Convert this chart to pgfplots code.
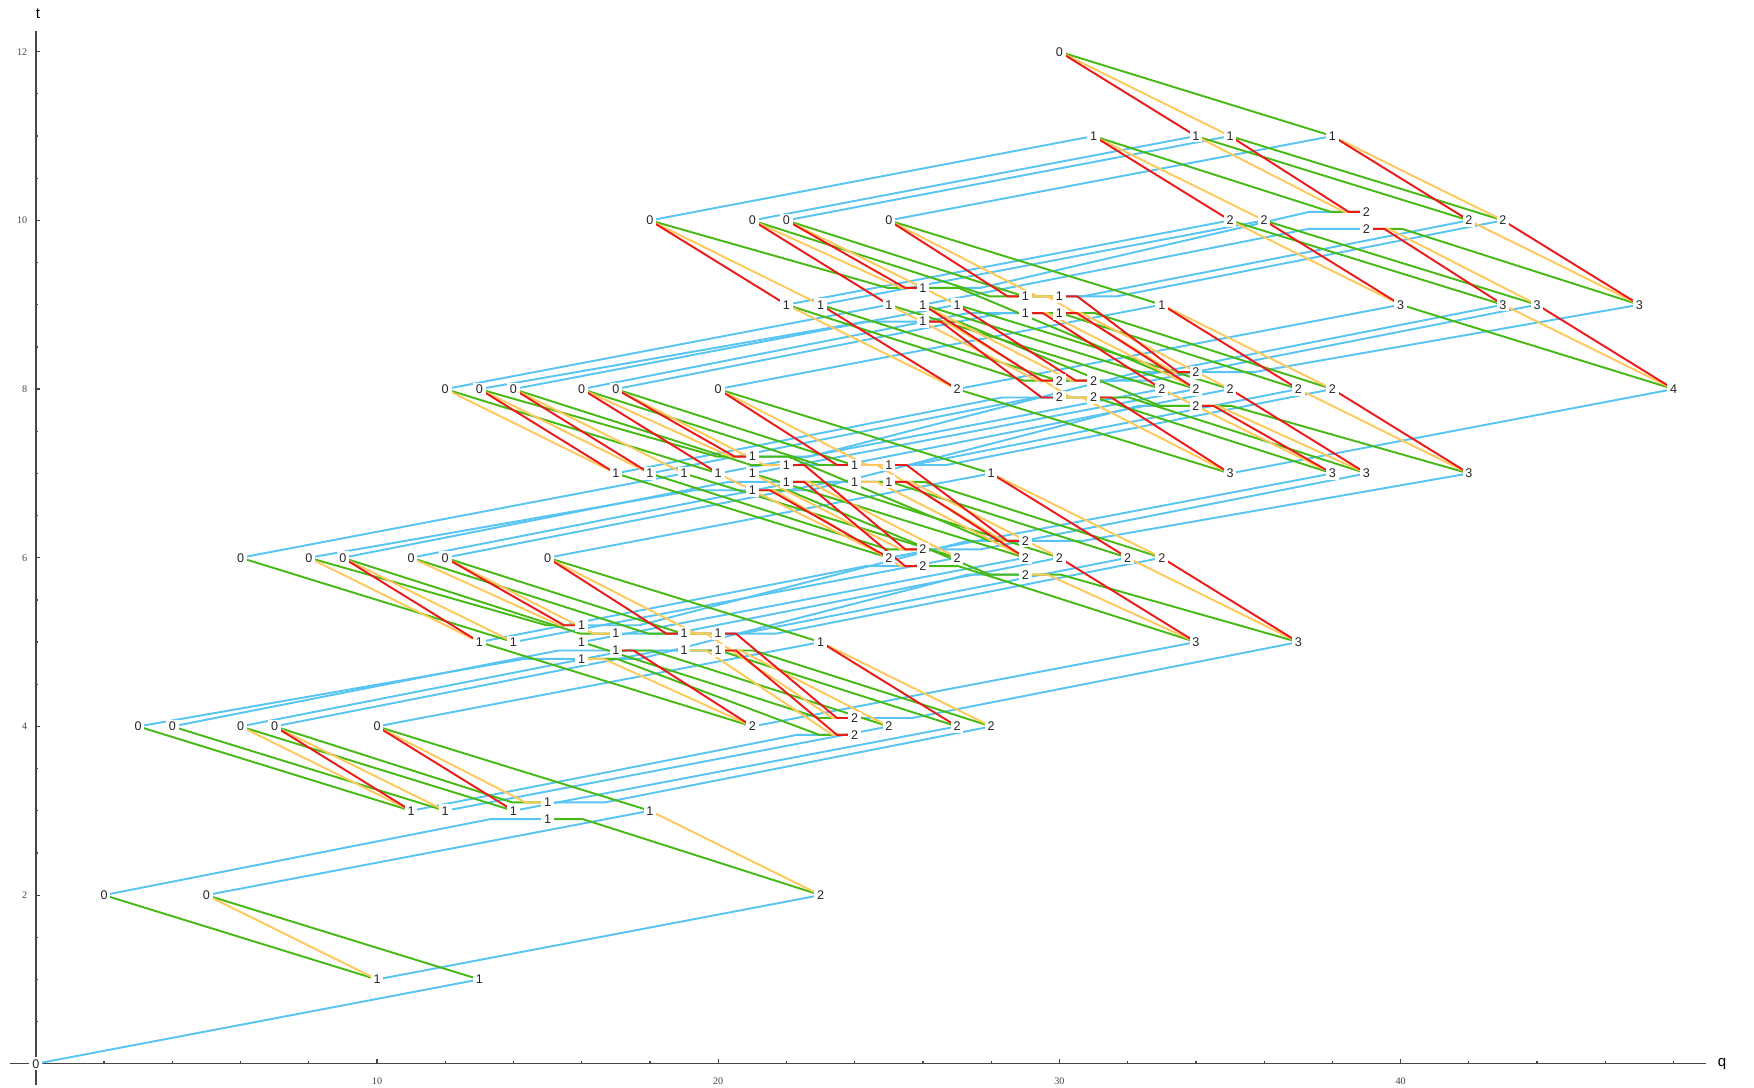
\documentclass[border=0pt]{standalone}
\usepackage{fontspec}
\setmainfont{Liberation Sans}
\newfontfamily\serifnum{Liberation Serif}
\usepackage{pgfplots}
\pgfplotsset{compat=1.18}

\definecolor{cB}{RGB}{88,196,242}
\definecolor{cG}{RGB}{70,185,20}
\definecolor{cO}{RGB}{255,200,90}
\definecolor{cR}{RGB}{235,25,25}
\definecolor{axc}{RGB}{70,70,70}

\pgfplotsset{
  eB/.style={color=cB, line width=0.55pt, line join=round},
  eG/.style={color=cG, line width=0.55pt, line join=round},
  eO/.style={color=cO, line width=0.55pt, line join=round},
  eR/.style={color=cR, line width=0.55pt, line join=round},
}

% edge: style, q1, t1, jitter1, q2, t2, jitter2
\newcommand\E[7]{%
  \pgfmathsetmacro\hh{0.13*(#5-#2)}%
  \pgfmathsetmacro\ya{#3+(#4)}%
  \pgfmathsetmacro\xb{#2+((#4)!=0)*\hh}%
  \pgfmathsetmacro\yc{#6+(#7)}%
  \pgfmathsetmacro\xc{#5-((#7)!=0)*\hh}%
  \edef\edgetmp{\noexpand\addplot[#1] coordinates {(#2,\ya) (\xb,\ya) (\xc,\yc) (#5,\yc)};}%
  \edgetmp}
\newcommand\eb[6]{\E{eB}{#1}{#2}{#3}{#4}{#5}{#6}}
\newcommand\eg[6]{\E{eG}{#1}{#2}{#3}{#4}{#5}{#6}}
\newcommand\eo[6]{\E{eO}{#1}{#2}{#3}{#4}{#5}{#6}}
\newcommand\er[6]{\E{eR}{#1}{#2}{#3}{#4}{#5}{#6}}

\pgfplotstableread{
q t l
0 0 0
2 2 0
5 2 0
3 4 0
4 4 0
6 4 0
7 4 0
10 4 0
6 6 0
8 6 0
9 6 0
11 6 0
12 6 0
15 6 0
12 8 0
13 8 0
14 8 0
16 8 0
17 8 0
20 8 0
18 10 0
21 10 0
22 10 0
25 10 0
30 12 0
10 1 1
13 1 1
11 3 1
12 3 1
14 3 1
15 3.1 1
15 2.9 1
18 3 1
13 5 1
14 5 1
16 5.2 1
16 5 1
16 4.8 1
17 5.1 1
17 4.9 1
19 5.1 1
19 4.9 1
20 5.1 1
20 4.9 1
23 5 1
17 7 1
18 7 1
19 7 1
20 7 1
21 7.2 1
21 7 1
21 6.8 1
22 7.1 1
22 6.9 1
24 7.1 1
24 6.9 1
25 7.1 1
25 6.9 1
28 7 1
22 9 1
23 9 1
25 9 1
26 9.2 1
26 9 1
26 8.8 1
27 9 1
29 9.1 1
29 8.9 1
30 9.1 1
30 8.9 1
33 9 1
31 11 1
34 11 1
35 11 1
38 11 1
23 2 2
21 4 2
24 4.1 2
24 3.9 2
25 4 2
27 4 2
28 4 2
25 6 2
26 6.1 2
26 5.9 2
27 6 2
29 6.2 2
29 6 2
29 5.8 2
30 6 2
32 6 2
33 6 2
27 8 2
30 8.1 2
30 7.9 2
31 8.1 2
31 7.9 2
33 8 2
34 8.2 2
34 8 2
34 7.8 2
35 8 2
37 8 2
38 8 2
35 10 2
36 10 2
39 10.1 2
39 9.9 2
42 10 2
43 10 2
34 5 3
37 5 3
35 7 3
38 7 3
39 7 3
42 7 3
40 9 3
43 9 3
44 9 3
47 9 3
48 8 4
}\nodetable

\begin{document}
\begin{tikzpicture}
\begin{axis}[
  at={(0,0)}, anchor=origin,
  scale only axis, width=484.5pt, height=300.97pt,
  xmin=-0.75, xmax=48.95, ymin=-0.25, ymax=12.24,
  enlargelimits=false, clip=false,
  axis lines=middle,
  axis line style={axc, line width=0.4pt, -},
  every inner x axis line/.append style={-},
  every inner y axis line/.append style={-},
  xtick={10,20,30,40}, ytick={2,4,6,8,10,12},
  minor xtick={2,4,...,48}, minor ytick={0.5,1,...,12},
  tick align=inside, major tick length=1.3pt, minor tick length=0.7pt,
  tick style={axc, line width=0.35pt},
  /pgf/number format/assume math mode=true,
  tick label style={font=\serifnum\fontsize{2.9}{3.2}\selectfont, text=axc},
  xticklabel style={yshift=-0.5pt},
  yticklabel style={xshift=1.1pt},
  xlabel={q}, ylabel={t},
  xlabel style={at={(axis cs:48.95,0)}, anchor=west, inner sep=0pt, xshift=3.2pt, font=\fontsize{4.3}{5}\selectfont},
  ylabel style={at={(axis cs:0,12.24)}, anchor=south, inner sep=0pt, yshift=3.4pt, xshift=0.6pt, font=\fontsize{4.3}{5}\selectfont},
]
% ---------------- blue edges
\eb{0}{0}{0}{13}{1}{0}
\eb{2}{2}{0}{15}{3}{-0.1}
\eb{5}{2}{0}{18}{3}{0}
\eb{3}{4}{0}{16}{5}{-0.2}
\eb{4}{4}{0}{17}{5}{-0.1}
\eb{6}{4}{0}{19}{5}{-0.1}
\eb{7}{4}{0}{20}{5}{-0.1}
\eb{10}{4}{0}{23}{5}{0}
\eb{6}{6}{0}{19}{7}{0}
\eb{8}{6}{0}{21}{7}{-0.2}
\eb{9}{6}{0}{22}{7}{-0.1}
\eb{11}{6}{0}{24}{7}{-0.1}
\eb{12}{6}{0}{25}{7}{-0.1}
\eb{15}{6}{0}{28}{7}{0}
\eb{12}{8}{0}{25}{9}{0}
\eb{13}{8}{0}{26}{9}{-0.2}
\eb{14}{8}{0}{27}{9}{0}
\eb{16}{8}{0}{29}{9}{-0.1}
\eb{17}{8}{0}{30}{9}{-0.1}
\eb{20}{8}{0}{33}{9}{0}
\eb{18}{10}{0}{31}{11}{0}
\eb{21}{10}{0}{34}{11}{0}
\eb{22}{10}{0}{35}{11}{0}
\eb{25}{10}{0}{38}{11}{0}
\eb{10}{1}{0}{23}{2}{0}
\eb{11}{3}{0}{24}{4}{-0.1}
\eb{12}{3}{0}{25}{4}{0}
\eb{14}{3}{0}{27}{4}{0}
\eb{15}{3}{0.1}{28}{4}{0}
\eb{13}{5}{0}{26}{6}{-0.1}
\eb{14}{5}{0}{27}{6}{0}
\eb{16}{5}{0.2}{29}{6}{0.2}
\eb{16}{5}{0}{29}{6}{0}
\eb{16}{5}{-0.2}{29}{6}{-0.2}
\eb{17}{5}{0.1}{30}{6}{0}
\eb{19}{5}{0.1}{32}{6}{0}
\eb{20}{5}{0.1}{33}{6}{0}
\eb{17}{7}{0}{30}{8}{-0.1}
\eb{18}{7}{0}{31}{8}{-0.1}
\eb{20}{7}{0}{33}{8}{0}
\eb{21}{7}{0.2}{34}{8}{0.2}
\eb{21}{7}{0}{34}{8}{0}
\eb{21}{7}{-0.2}{34}{8}{-0.2}
\eb{22}{7}{0.1}{35}{8}{0}
\eb{24}{7}{0.1}{37}{8}{0}
\eb{25}{7}{0.1}{38}{8}{0}
\eb{22}{9}{0}{35}{10}{0}
\eb{23}{9}{0}{36}{10}{0}
\eb{26}{9}{0.2}{39}{10}{0.1}
\eb{26}{9}{0}{39}{10}{-0.1}
\eb{29}{9}{0.1}{42}{10}{0}
\eb{30}{9}{0.1}{43}{10}{0}
\eb{21}{4}{0}{34}{5}{0}
\eb{24}{4}{0.1}{37}{5}{0}
\eb{25}{6}{0}{38}{7}{0}
\eb{26}{6}{0.1}{39}{7}{0}
\eb{29}{6}{0.2}{42}{7}{0}
\eb{27}{8}{0}{40}{9}{0}
\eb{30}{8}{0.1}{43}{9}{0}
\eb{31}{8}{0.1}{44}{9}{0}
\eb{34}{8}{0.2}{47}{9}{0}
\eb{35}{7}{0}{48}{8}{0}
% ---------------- green edges
\eg{2}{2}{0}{10}{1}{0}
\eg{5}{2}{0}{13}{1}{0}
\eg{3}{4}{0}{11}{3}{0}
\eg{4}{4}{0}{12}{3}{0}
\eg{6}{4}{0}{14}{3}{0}
\eg{7}{4}{0}{15}{3}{0.1}
\eg{10}{4}{0}{18}{3}{0}
\eg{6}{6}{0}{14}{5}{0}
\eg{8}{6}{0}{16}{5}{0.2}
\eg{9}{6}{0}{17}{5}{0.1}
\eg{11}{6}{0}{19}{5}{0.1}
\eg{12}{6}{0}{20}{5}{0.1}
\eg{15}{6}{0}{23}{5}{0}
\eg{12}{8}{0}{20}{7}{0}
\eg{13}{8}{0}{21}{7}{0.2}
\eg{14}{8}{0}{22}{7}{0.1}
\eg{16}{8}{0}{24}{7}{0.1}
\eg{17}{8}{0}{25}{7}{0.1}
\eg{20}{8}{0}{28}{7}{0}
\eg{18}{10}{0}{26}{9}{0.2}
\eg{21}{10}{0}{29}{9}{0.1}
\eg{22}{10}{0}{30}{9}{0.1}
\eg{25}{10}{0}{33}{9}{0}
\eg{30}{12}{0}{38}{11}{0}
\eg{15}{3}{-0.1}{23}{2}{0}
\eg{13}{5}{0}{21}{4}{0}
\eg{16}{5}{0}{24}{4}{0.1}
\eg{16}{5}{-0.2}{24}{4}{-0.1}
\eg{17}{5}{-0.1}{25}{4}{0}
\eg{19}{5}{-0.1}{27}{4}{0}
\eg{20}{5}{-0.1}{28}{4}{0}
\eg{17}{7}{0}{25}{6}{0}
\eg{18}{7}{0}{26}{6}{0.1}
\eg{19}{7}{0}{27}{6}{0}
\eg{21}{7}{0.2}{29}{6}{0.2}
\eg{21}{7}{0}{29}{6}{0}
\eg{21}{7}{-0.2}{29}{6}{-0.2}
\eg{22}{7}{-0.1}{30}{6}{0}
\eg{24}{7}{-0.1}{32}{6}{0}
\eg{25}{7}{-0.1}{33}{6}{0}
\eg{22}{9}{0}{30}{8}{0.1}
\eg{23}{9}{0}{31}{8}{0.1}
\eg{25}{9}{0}{33}{8}{0}
\eg{26}{9}{0.2}{34}{8}{0.2}
\eg{26}{9}{0}{34}{8}{0}
\eg{26}{9}{-0.2}{34}{8}{-0.2}
\eg{27}{9}{0}{35}{8}{0}
\eg{29}{9}{-0.1}{37}{8}{0}
\eg{30}{9}{-0.1}{38}{8}{0}
\eg{31}{11}{0}{39}{10}{0.1}
\eg{34}{11}{0}{42}{10}{0}
\eg{35}{11}{0}{43}{10}{0}
\eg{26}{6}{-0.1}{34}{5}{0}
\eg{29}{6}{-0.2}{37}{5}{0}
\eg{27}{8}{0}{35}{7}{0}
\eg{30}{8}{-0.1}{38}{7}{0}
\eg{31}{8}{-0.1}{39}{7}{0}
\eg{34}{8}{-0.2}{42}{7}{0}
\eg{35}{10}{0}{43}{9}{0}
\eg{36}{10}{0}{44}{9}{0}
\eg{39}{10}{-0.1}{47}{9}{0}
\eg{40}{9}{0}{48}{8}{0}
% ---------------- orange edges
\eo{5}{2}{0}{10}{1}{0}
\eo{6}{4}{0}{11}{3}{0}
\eo{7}{4}{0}{12}{3}{0}
\eo{10}{4}{0}{15}{3}{0.1}
\eo{8}{6}{0}{13}{5}{0}
\eo{9}{6}{0}{14}{5}{0}
\eo{11}{6}{0}{16}{5}{0.2}
\eo{12}{6}{0}{17}{5}{0.1}
\eo{15}{6}{0}{20}{5}{0.1}
\eo{12}{8}{0}{17}{7}{0}
\eo{13}{8}{0}{18}{7}{0}
\eo{14}{8}{0}{19}{7}{0}
\eo{16}{8}{0}{21}{7}{0.2}
\eo{17}{8}{0}{22}{7}{0.1}
\eo{20}{8}{0}{25}{7}{0.1}
\eo{18}{10}{0}{23}{9}{0}
\eo{21}{10}{0}{26}{9}{0.2}
\eo{22}{10}{0}{27}{9}{0}
\eo{25}{10}{0}{30}{9}{0.1}
\eo{30}{12}{0}{35}{11}{0}
\eo{18}{3}{0}{23}{2}{0}
\eo{16}{5}{-0.2}{21}{4}{0}
\eo{19}{5}{0.1}{24}{4}{0.1}
\eo{19}{5}{-0.1}{24}{4}{-0.1}
\eo{20}{5}{-0.1}{25}{4}{0}
\eo{23}{5}{0}{28}{4}{0}
\eo{20}{7}{0}{25}{6}{0}
\eo{21}{7}{0}{26}{6}{0.1}
\eo{21}{7}{-0.2}{26}{6}{-0.1}
\eo{22}{7}{-0.1}{27}{6}{0}
\eo{24}{7}{0.1}{29}{6}{0.2}
\eo{24}{7}{-0.1}{29}{6}{0}
\eo{25}{7}{-0.1}{30}{6}{0}
\eo{28}{7}{0}{33}{6}{0}
\eo{22}{9}{0}{27}{8}{0}
\eo{25}{9}{0}{30}{8}{0.1}
\eo{26}{9}{0}{31}{8}{0.1}
\eo{26}{9}{-0.2}{31}{8}{-0.1}
\eo{29}{9}{0.1}{34}{8}{0.2}
\eo{29}{9}{-0.1}{34}{8}{0}
\eo{30}{9}{-0.1}{35}{8}{0}
\eo{33}{9}{0}{38}{8}{0}
\eo{31}{11}{0}{36}{10}{0}
\eo{34}{11}{0}{39}{10}{0.1}
\eo{38}{11}{0}{43}{10}{0}
\eo{29}{6}{-0.2}{34}{5}{0}
\eo{32}{6}{0}{37}{5}{0}
\eo{30}{8}{-0.1}{35}{7}{0}
\eo{33}{8}{0}{38}{7}{0}
\eo{34}{8}{-0.2}{39}{7}{0}
\eo{37}{8}{0}{42}{7}{0}
\eo{35}{10}{0}{40}{9}{0}
\eo{39}{10}{-0.1}{44}{9}{0}
\eo{42}{10}{0}{47}{9}{0}
\eo{43}{9}{0}{48}{8}{0}
% ---------------- red edges
\er{7}{4}{0}{11}{3}{0}
\er{10}{4}{0}{14}{3}{0}
\er{9}{6}{0}{13}{5}{0}
\er{12}{6}{0}{16}{5}{0.2}
\er{15}{6}{0}{19}{5}{0.1}
\er{13}{8}{0}{17}{7}{0}
\er{14}{8}{0}{18}{7}{0}
\er{16}{8}{0}{20}{7}{0}
\er{17}{8}{0}{21}{7}{0.2}
\er{20}{8}{0}{24}{7}{0.1}
\er{18}{10}{0}{22}{9}{0}
\er{21}{10}{0}{25}{9}{0}
\er{22}{10}{0}{26}{9}{0.2}
\er{25}{10}{0}{29}{9}{0.1}
\er{30}{12}{0}{34}{11}{0}
\er{17}{5}{-0.1}{21}{4}{0}
\er{20}{5}{0.1}{24}{4}{0.1}
\er{20}{5}{-0.1}{24}{4}{-0.1}
\er{23}{5}{0}{27}{4}{0}
\er{21}{7}{-0.2}{25}{6}{0}
\er{22}{7}{0.1}{26}{6}{0.1}
\er{22}{7}{-0.1}{26}{6}{-0.1}
\er{25}{7}{0.1}{29}{6}{0.2}
\er{25}{7}{-0.1}{29}{6}{0}
\er{28}{7}{0}{32}{6}{0}
\er{23}{9}{0}{27}{8}{0}
\er{26}{9}{0}{30}{8}{0.1}
\er{26}{9}{-0.2}{30}{8}{-0.1}
\er{27}{9}{0}{31}{8}{0.1}
\er{29}{9}{-0.1}{33}{8}{0}
\er{30}{9}{0.1}{34}{8}{0.2}
\er{30}{9}{-0.1}{34}{8}{0}
\er{33}{9}{0}{37}{8}{0}
\er{31}{11}{0}{35}{10}{0}
\er{35}{11}{0}{39}{10}{0.1}
\er{38}{11}{0}{42}{10}{0}
\er{30}{6}{0}{34}{5}{0}
\er{33}{6}{0}{37}{5}{0}
\er{31}{8}{-0.1}{35}{7}{0}
\er{34}{8}{-0.2}{38}{7}{0}
\er{35}{8}{0}{39}{7}{0}
\er{38}{8}{0}{42}{7}{0}
\er{36}{10}{0}{40}{9}{0}
\er{39}{10}{-0.1}{43}{9}{0}
\er{43}{10}{0}{47}{9}{0}
\er{44}{9}{0}{48}{8}{0}
% ---------------- vertex labels
\addplot[draw=none, mark=none, nodes near coords, point meta=explicit symbolic,
  nodes near coords align={center},
  every node near coord/.append style={anchor=center, fill=white, inner xsep=0.8pt, inner ysep=0.6pt,
    text=black!85, font=\fontsize{3.6}{4}\selectfont}]
  table[x=q, y=t, meta=l] {\nodetable};
\end{axis}
\pgfresetboundingbox
\path[use as bounding box] (-10.23pt,-6.91pt) rectangle (490.91pt,303.94pt);
\end{tikzpicture}
\end{document}
